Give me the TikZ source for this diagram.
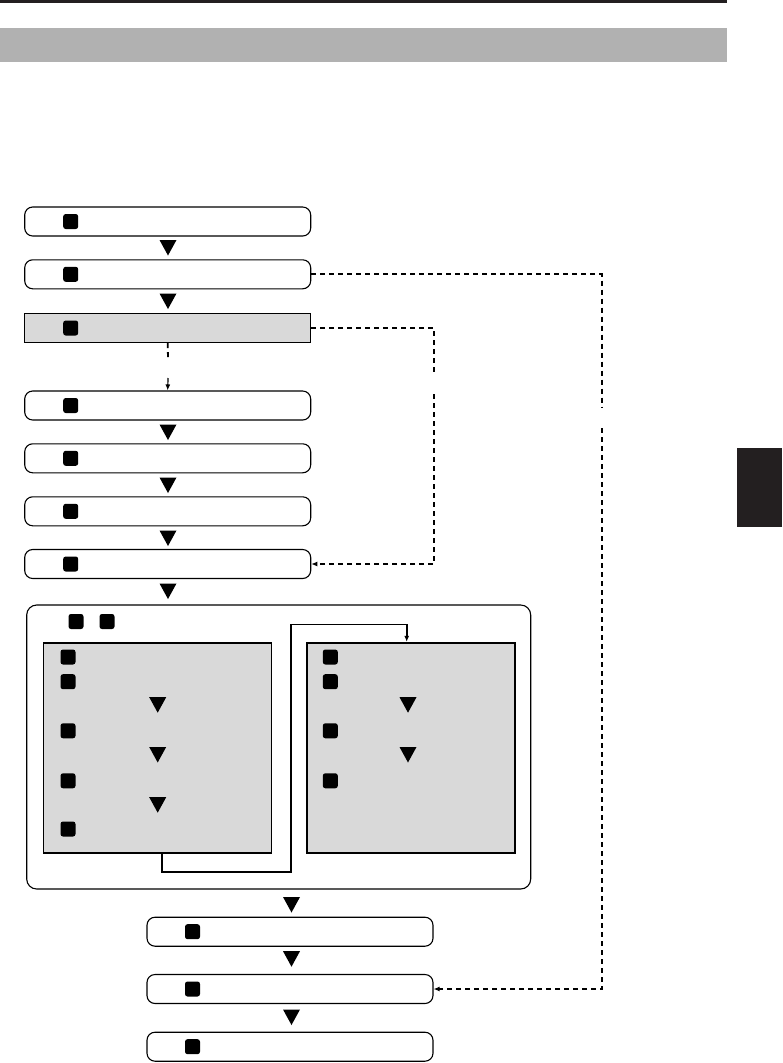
\documentclass[tikz,border=0pt]{standalone}
\usetikzlibrary{arrows.meta}
\definecolor{bardark}{HTML}{231F20}
\definecolor{bandgrey}{HTML}{B1B1B1}
\definecolor{boxgrey}{HTML}{D9D9D9}
\tikzset{
  rbox/.style={draw=black, line width=1.1pt, rounded corners=8pt, fill=white, minimum width=286pt, minimum height=29pt, inner sep=0pt},
  gbox/.style={draw=black, line width=1.1pt, fill=boxgrey, minimum width=286pt, minimum height=29pt, inner sep=0pt},
  ibox/.style={draw=black, line width=1.8pt, fill=boxgrey, inner sep=0pt},
  bigbox/.style={draw=black, line width=1.1pt, rounded corners=10pt, inner sep=0pt},
  sq/.style={fill=black, rounded corners=2.5pt, minimum width=15pt, minimum height=15pt, inner sep=0pt},
  dline/.style={line width=1.8pt, dash pattern=on 5pt off 4pt},
  sline/.style={line width=1.6pt},
  tip/.style={-{Latex[length=6pt,width=5pt]}},
}
\newcommand\dtri[2]{\fill[black] (#1-8.5,#2-7.5) -- (#1+8.5,#2-7.5) -- (#1,#2+8) -- cycle;}
\begin{document}
\begin{tikzpicture}[x=1pt,y=-1pt]
\useasboundingbox (0,0) rectangle (782,1063);
% header
\fill[bardark] (0,0) rectangle (727,3);
\fill[bandgrey] (0,28) rectangle (727,62);
\fill[bardark] (737,448) rectangle (782,527);
% upper boxes
\node[rbox] (b1) at (167.7,221.5) {};
\node[rbox] (b2) at (167.7,274.3) {};
\node[gbox] (b3) at (167.7,328) {};
\node[rbox] (b4) at (167.7,405.5) {};
\node[rbox] (b5) at (167.7,458.3) {};
\node[rbox] (b6) at (167.7,511.3) {};
\node[rbox] (b7) at (167.7,564) {};
\foreach \n/\y in {1/221.5,2/274.3,3/328,4/405.5,5/458.3,6/511.3,7/564}
  \node[sq] (s\n) at (70.7,\y) {};
\dtri{168}{247.5}
\dtri{168}{301}
\dtri{168}{432}
\dtri{168}{485}
\dtri{168}{538}
\dtri{168}{591}
% big box
\node[bigbox, minimum width=504pt, minimum height=284pt] (big) at (278.7,747) {};
\node[sq] (t1) at (76,621.5) {};
\node[sq] (t2) at (107,621.5) {};
\node[ibox, minimum width=228pt, minimum height=210.5pt] (L) at (157.5,748) {};
\node[ibox, minimum width=208pt, minimum height=210.5pt] (R) at (411.3,748) {};
\foreach \n/\y in {1/657,2/681.7,3/730.8,4/780.8,5/829}
  \node[sq] (l\n) at (68,\y) {};
\foreach \n/\y in {1/657,2/681.7,3/730.8,4/780.8}
  \node[sq] (r\n) at (330.3,\y) {};
\dtri{157.7}{704.7}
\dtri{157.7}{754.5}
\dtri{157.7}{804.7}
\dtri{408}{704.7}
\dtri{408}{754.5}
% connector left to right inner box
\coordinate (c1) at (162,871.7);
\coordinate (c2) at (290.7,624.3);
\draw[sline, tip] (L.south -| c1) -- (c1) -| (c2) -| (R.north -| 406.7,0);
% lower boxes
\node[rbox] (lb1) at (290,931.7) {};
\node[rbox] (lb2) at (290,989) {};
\node[rbox] (lb3) at (290,1046.7) {};
\foreach \n/\y in {1/931.7,2/989,3/1046.7}
  \node[sq] (ls\n) at (192.5,\y) {};
\dtri{291.5}{904.5}
\dtri{291.5}{958.7}
\dtri{291.5}{1017}
% dashed connectors
\coordinate (d1) at (602,407);
\coordinate (d2) at (602,428);
\draw[dline] (b2.east) -| (d1);
\draw[dline, tip] (d2) |- (lb2.east);
\coordinate (e1) at (434,373);
\coordinate (e2) at (434,394);
\draw[dline] (b3.east) -| (e1);
\draw[dline, tip] (e2) |- (b7.east);
\coordinate (f1) at (168,359);
\coordinate (f2) at (168,378);
\draw[dline] (b3.south) -- (f1);
\draw[sline, line width=1.2pt, tip] (f2) -- (b4.north);
\end{tikzpicture}
\end{document}
